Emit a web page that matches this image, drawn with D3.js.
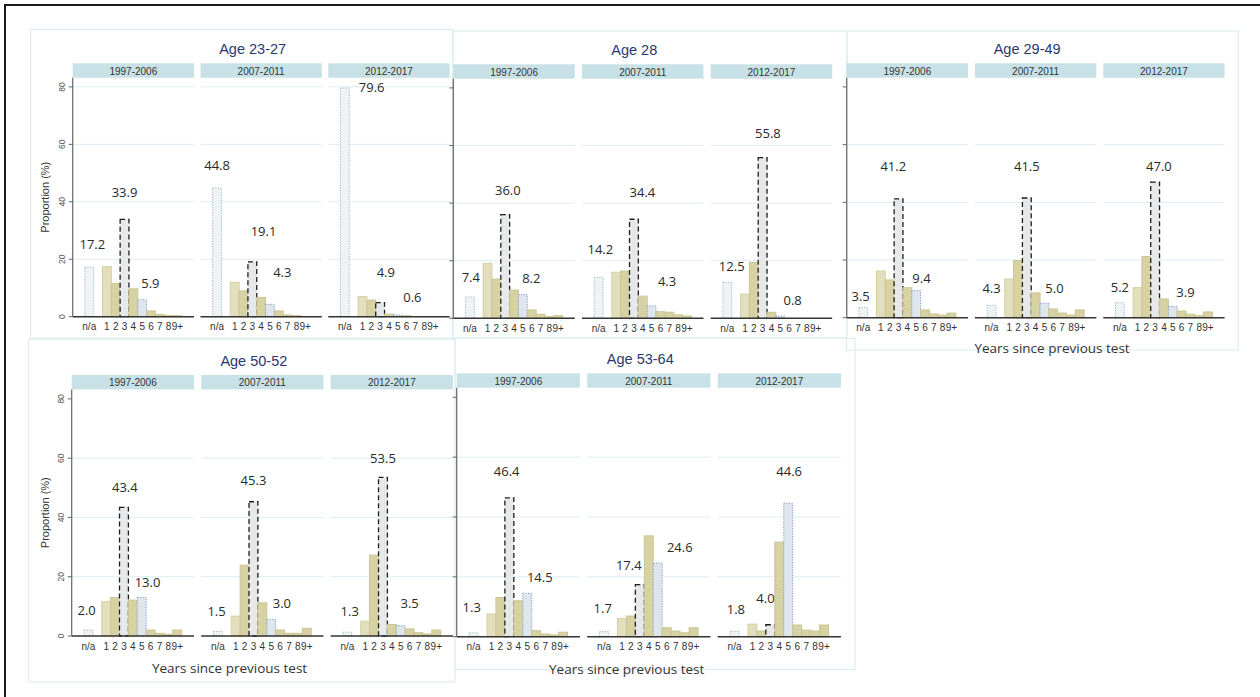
<!DOCTYPE html>
<html><head><meta charset="utf-8">
<script src="https://cdn.jsdelivr.net/npm/d3@7"></script>
<style>body{margin:0;background:#fff}svg{display:block}</style>
</head><body><svg id="chart" width="1260" height="697"></svg>
<script>
// ---------- data ----------
const categories = ["n/a","1","2","3","4","5","6","7","8","9+"];
const slots = ["n/a","gap","1","2","3","4","5","6","7","8","9+"];
const periods = ["1997-2006","2007-2011","2012-2017"];
const ageGroups = ["Age 23-27","Age 28","Age 29-49","Age 50-52","Age 53-64"];
const yTicks = [0,20,40,60,80];

// proportion (%) per period, in category order
const age23_27 = [
  [17.2,17.4,11.6,33.9,9.7,5.9,2.0,0.8,0.35,0.35],
  [44.8,12.0,9.0,19.1,6.7,4.3,2.0,0.6,0.35,0],
  [79.6,7.0,5.8,4.9,0.9,0.6,0.35,0,0,0]
];
const age28 = [
  [7.4,19.1,13.6,36.0,9.8,8.2,2.9,1.4,0.6,0.9],
  [14.2,16.0,16.4,34.4,7.7,4.3,2.3,2.1,1.2,0.8],
  [12.5,8.4,19.4,55.8,2.1,0.8,0,0,0,0]
];
const age29_49 = [
  [3.5,16.2,13.1,41.2,10.4,9.4,2.7,1.3,0.9,1.6],
  [4.3,13.4,19.8,41.5,8.6,5.0,3.0,1.6,0.9,2.7],
  [5.2,10.4,21.2,47.0,6.5,3.9,2.3,1.2,0.7,2.0]
];
const age50_52 = [
  [2.0,11.6,13.0,43.4,12.1,13.0,2.0,0.9,0.6,2.0],
  [1.5,6.7,23.9,45.3,11.2,5.6,2.0,0.9,0.9,2.6],
  [1.3,5.0,27.3,53.5,3.9,3.5,2.4,1.1,0.7,2.0]
];
const age53_64 = [
  [1.3,7.6,13.1,46.4,12.0,14.5,2.0,0.9,0.6,1.5],
  [1.7,6.1,6.9,17.4,33.7,24.6,3.0,1.9,1.3,3.0],
  [1.8,4.2,1.9,4.0,31.6,44.6,3.9,2.2,1.9,3.9]
];
const seriesByAge = [age23_27, age28, age29_49, age50_52, age53_64];

// printed value labels (for categories n/a, 3 and 5)
const labelledCats = ["n/a","3","5"];
const labels23_27 = [[17.2,33.9,5.9],[44.8,19.1,4.3],[79.6,4.9,0.6]];
const labels28    = [[7.4,36.0,8.2],[14.2,34.4,4.3],[12.5,55.8,0.8]];
const labels29_49 = [[3.5,41.2,9.4],[4.3,41.5,5.0],[5.2,47.0,3.9]];
const labels50_52 = [[2.0,43.4,13.0],[1.5,45.3,3.0],[1.3,53.5,3.5]];
const labels53_64 = [[1.3,46.4,14.5],[1.7,17.4,24.6],[1.8,4.0,44.6]];
const labelsByAge = [labels23_27, labels28, labels29_49, labels50_52, labels53_64];

// ---------- annotation placement (data units: slot shift, % height) ----------
const labelAt = [
  [[[0.35,25.4],[0,43.5],[0.93,11.75]],[[0,52.9],[1.27,29.9],[1.4,15.6]],[[3.04,80],[0.64,15.6],[1.66,6.9]]],
  [[[0.1,14.4],[0.3,44.5],[0.95,13.9]],[[0.2,24.0],[0.96,43.9],[1.75,12.9]],[[0.5,18.3],[0.6,64.2],[1.4,6.3]]],
  [[[-0.3,7.6],[-0.6,52.6],[0.6,13.7]],[[0,10.2],[0,52.6],[1.13,10.2]],[[0,10.8],[0.43,52.6],[1.44,9.0]]],
  [[[-0.2,8.75],[0.1,50.3],[0.65,18.3]],[[-0.15,8.4],[0,52.7],[1.2,11.2]],[[0.26,8.4],[0,60.0],[1.0,11.2]]],
  [[[-0.2,9.8],[-0.3,55.2],[1.4,19.9]],[[-0.15,9.6],[-1.24,24.1],[2.46,30.0]],[[0.15,9.2],[-0.54,12.9],[0.1,55.2]]]
];

// ---------- layout ----------
const layout = [
  {frame:[30.5,29.5,452.5,338], left:72.7, W:121.3, step:127.8, stripTop:63.3, base:316.7, yLabels:true, grid80:true, xTitle:null},
  {frame:[453,31,847,338], left:453.3, W:121.5, step:128.7, stripTop:64.3, base:318.3, yLabels:false, grid80:false, xTitle:null},
  {frame:[846.5,31,1238.3,350], left:846.7, W:121.3, step:128.3, stripTop:63.3, base:317.7, yLabels:false, grid80:false, xTitle:[1052,348.3]},
  {frame:[28.5,339.3,455,682], left:71.7, W:122.3, step:129.5, stripTop:375, base:636, yLabels:true, grid80:false, xTitle:[229.5,668.3]},
  {frame:[455,338.3,855,669.5], left:456.7, W:123.2, step:130.5, stripTop:373.3, base:636.7, yLabels:false, grid80:false, xTitle:[626.7,669.3]}
];
const stripH = 14.4;
const yMax = 83.2;

const styleOf = c => c === "n/a" ? "na" : c === "1" ? "light" : c === "3" ? "dash" : c === "5" ? "dot" : "khaki";
const barStyle = {
  na:    {fill:"#eef3f5", stroke:"#9db7c1", dash:"1.2,1.4", sw:1},
  light: {fill:"#e3dfbe", stroke:"#d5d0a2", dash:null, sw:1},
  khaki: {fill:"#d7d2a3", stroke:"#cbc593", dash:null, sw:1},
  dash:  {fill:"#e6e8ea", stroke:"#1e1e1e", dash:"5,3", sw:1.3},
  dot:   {fill:"#dee5ed", stroke:"#7f9dc3", dash:"1.2,1.4", sw:1}
};

const SANS = "'Liberation Sans', Arial, sans-serif";
const HUM = "'Open Sans', 'Noto Sans', sans-serif";

const svg = d3.select("#chart");
svg.append("rect").attr("width",1260).attr("height",697).attr("fill","#fff");

// outer border (top and left)
svg.append("line").attr("x1",4).attr("x2",1260).attr("y1",5).attr("y2",5).attr("stroke","#1a1a1a").attr("stroke-width",2);
svg.append("line").attr("x1",5).attr("x2",5).attr("y1",4).attr("y2",697).attr("stroke","#1a1a1a").attr("stroke-width",2);

// panel frames
layout.forEach(L => {
  const [x1,y1,x2,y2] = L.frame;
  svg.append("rect").attr("x",x1).attr("y",y1).attr("width",x2-x1).attr("height",y2-y1)
    .attr("fill","none").attr("stroke","#ddeef1").attr("stroke-width",1.2);
});

layout.forEach((L, p) => {
  const g = svg.append("g");
  const plotTop = L.stripTop + stripH;
  const y = d3.scaleLinear().domain([0,yMax]).range([L.base, plotTop]);
  const spanL = L.left, spanR = L.left + 2*L.step + L.W;

  // title
  g.append("text").attr("x",(spanL+spanR)/2 - 8.5).attr("y",L.stripTop - 14)
    .attr("text-anchor","middle").attr("dominant-baseline","central")
    .style("font-family",SANS).style("font-size","14.5px").attr("fill","#2b3870")
    .text(ageGroups[p]);

  periods.forEach((per, f) => {
    const x0 = L.left + f*L.step;
    const x = d3.scaleBand().domain(slots).range([x0, x0+L.W]).paddingInner(0).paddingOuter(1.38);
    const fg = g.append("g");

    // strip
    fg.append("rect").attr("x",x0).attr("y",L.stripTop).attr("width",L.W).attr("height",stripH).attr("fill","#c7e1e7");
    fg.append("text").attr("x",x0+L.W/2).attr("y",L.stripTop+stripH/2+0.5)
      .attr("text-anchor","middle").attr("dominant-baseline","central")
      .style("font-family",SANS).style("font-size","10px").attr("fill","#333").text(per);

    // gridlines
    const gridVals = yTicks.filter(v => v > 0 && (v < 80 || L.grid80));
    fg.selectAll("line.grid").data(gridVals).join("line").attr("class","grid")
      .attr("x1",x0).attr("x2",x0+L.W).attr("y1",d=>y(d)).attr("y2",d=>y(d))
      .attr("stroke","#dcedf1").attr("stroke-width",1);

    // bars
    const vals = seriesByAge[p][f];
    fg.selectAll("rect.bar").data(categories.map((c,i)=>({c, v:vals[i]})).filter(d=>d.v>0)).join("rect")
      .attr("class","bar")
      .attr("x",d=>x(d.c)).attr("width",x.bandwidth())
      .attr("y",d=>y(d.v)).attr("height",d=>y(0)-y(d.v))
      .attr("fill",d=>barStyle[styleOf(d.c)].fill)
      .attr("stroke",d=>barStyle[styleOf(d.c)].stroke)
      .attr("stroke-width",d=>barStyle[styleOf(d.c)].sw)
      .attr("stroke-dasharray",d=>barStyle[styleOf(d.c)].dash);

    // baseline
    fg.append("line").attr("x1",x0).attr("x2",x0+L.W).attr("y1",y(0)).attr("y2",y(0))
      .attr("stroke","#333").attr("stroke-width",1.5);

    // x tick labels
    fg.selectAll("text.xt").data(categories).join("text").attr("class","xt")
      .attr("x",d=>x(d)+x.bandwidth()/2).attr("y",L.base+10)
      .attr("text-anchor","middle").attr("dominant-baseline","central")
      .style("font-family",SANS).style("font-size","10px").attr("fill","#333").text(d=>d);

    // value labels
    const lv = labelsByAge[p][f];
    fg.selectAll("text.val").data(labelledCats.map((c,i)=>({c, t:lv[i], a:labelAt[p][f][i]}))).join("text")
      .attr("class","val")
      .attr("x",d=>x(d.c)+x.bandwidth()/2 + d.a[0]*x.step()).attr("y",d=>y(d.a[1]))
      .attr("text-anchor","middle").attr("dominant-baseline","central")
      .style("font-family",HUM).style("font-size","13px").attr("fill","#2a2a2a")
      .text(d=>d.t.toFixed(1));
  });

  // y axis
  const ax = g.append("g").attr("transform",`translate(${L.left},0)`);
  ax.append("line").attr("x1",0).attr("x2",0).attr("y1",plotTop).attr("y2",L.base).attr("stroke","#666").attr("stroke-width",1.2);
  ax.selectAll("line.tk").data(yTicks).join("line").attr("class","tk")
    .attr("x1",-4).attr("x2",0).attr("y1",d=>y(d)).attr("y2",d=>y(d)).attr("stroke","#666").attr("stroke-width",1);
  if (L.yLabels) {
    ax.selectAll("text.yt").data(yTicks).join("text").attr("class","yt")
      .attr("transform",d=>`translate(-11,${y(d)}) rotate(-90)`)
      .attr("text-anchor","middle").attr("dominant-baseline","central")
      .style("font-family",SANS).style("font-size","8.5px").attr("fill","#555").text(d=>d);
    g.append("text").attr("transform",`translate(45,${(plotTop+L.base)/2}) rotate(-90)`)
      .attr("text-anchor","middle").attr("dominant-baseline","central")
      .style("font-family",SANS).style("font-size","11px").attr("fill","#333").text("Proportion (%)");
  }
  if (L.xTitle) {
    g.append("text").attr("x",L.xTitle[0]).attr("y",L.xTitle[1])
      .attr("text-anchor","middle").attr("dominant-baseline","central")
      .style("font-family",HUM).style("font-size","13.5px").attr("fill","#333").text("Years since previous test");
  }
});
</script></body></html>
